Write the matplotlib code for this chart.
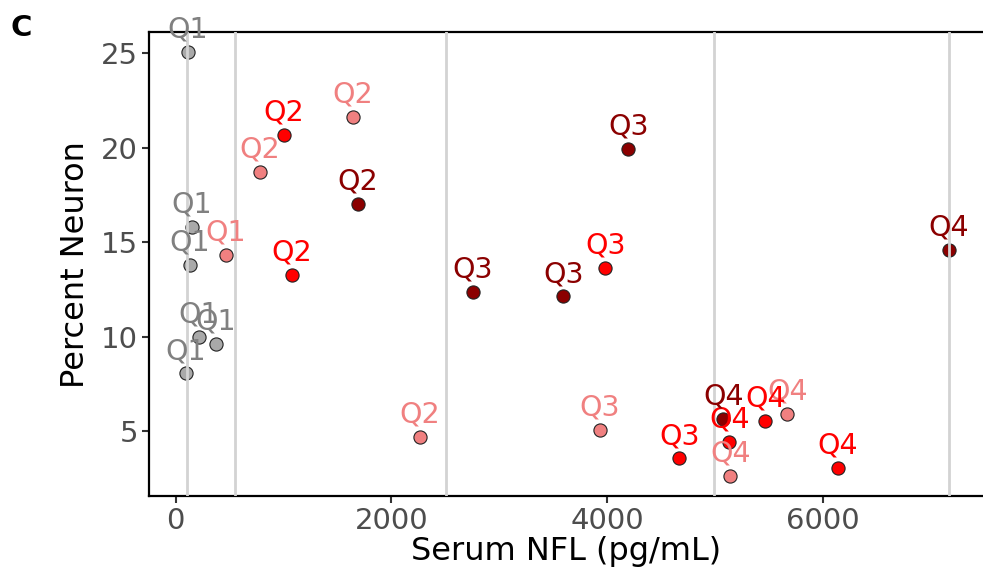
import numpy as np
import matplotlib.pyplot as plt

# serum NFL vs percent neuron, coloured by group, labelled by NFL quartile
gray_x = [114, 151, 132, 216, 373, 95]
gray_y = [25.05, 15.82, 13.79, 9.99, 9.60, 8.05]
gray_lab = ['Q1', 'Q1', 'Q1', 'Q1', 'Q1', 'Q1']

lc_x = [466, 781, 1642, 2262, 3929, 5142, 5670]
lc_y = [14.33, 18.73, 21.64, 4.69, 5.05, 2.61, 5.91]
lc_lab = ['Q1', 'Q2', 'Q2', 'Q2', 'Q3', 'Q4', 'Q4']

red_x = [1003, 1077, 3984, 4669, 5132, 5466, 6141]
red_y = [20.66, 13.26, 13.64, 3.55, 4.43, 5.52, 3.05]
red_lab = ['Q2', 'Q2', 'Q3', 'Q3', 'Q4', 'Q4', 'Q4']

dr_x = [1688, 2753, 3595, 4197, 5077, 7170]
dr_y = [17.02, 12.37, 12.13, 19.93, 5.63, 14.58]
dr_lab = ['Q2', 'Q3', 'Q3', 'Q3', 'Q4', 'Q4']

cutoffs = [102, 552, 2509, 4987, 7172]

groups = [
    (gray_x, gray_y, gray_lab, '#a9a9a9', '#808080'),
    (lc_x, lc_y, lc_lab, '#f08080', '#f08080'),
    (red_x, red_y, red_lab, '#ff0000', '#ff0000'),
    (dr_x, dr_y, dr_lab, '#8b0000', '#8b0000'),
]

fig = plt.figure(figsize=(9.83, 5.79), dpi=100)
ax = fig.add_axes([0.1516, 0.1434, 1.0 - 0.1516, 0.9442 - 0.1434])

for xs, ys, labs, fc, tc in groups:
    ax.scatter(xs, ys, s=90, c=fc, edgecolors='#222222', linewidths=0.8, zorder=2)
    for x, y, t in zip(xs, ys, labs):
        ax.annotate(t, (x, y), xytext=(0, 6), textcoords='offset points',
                    ha='center', va='bottom', color=tc, fontsize=20.5, zorder=4)

for c in cutoffs:
    ax.axvline(c, color='#d3d3d3', lw=2, zorder=3)

ax.set_xlim(-247, 7484)
ax.set_ylim(1.56, 26.11)
ax.set_xticks([0, 2000, 4000, 6000])
ax.set_yticks([5, 10, 15, 20, 25])
ax.set_xlabel('Serum NFL (pg/mL)', fontsize=23, color='black', labelpad=1)
ax.set_ylabel('Percent Neuron', fontsize=23, color='black', labelpad=7)
ax.tick_params(labelsize=21, labelcolor='#4d4d4d', length=5, width=1.5, color='#333333', pad=3)
for side in ['left', 'bottom', 'top']:
    ax.spines[side].set_linewidth(1.6)
ax.spines['right'].set_visible(False)

fig.text(0.011, 0.938, 'C', fontsize=21, fontweight='bold', ha='left', va='baseline')

fig.savefig('out.png', dpi=100)
